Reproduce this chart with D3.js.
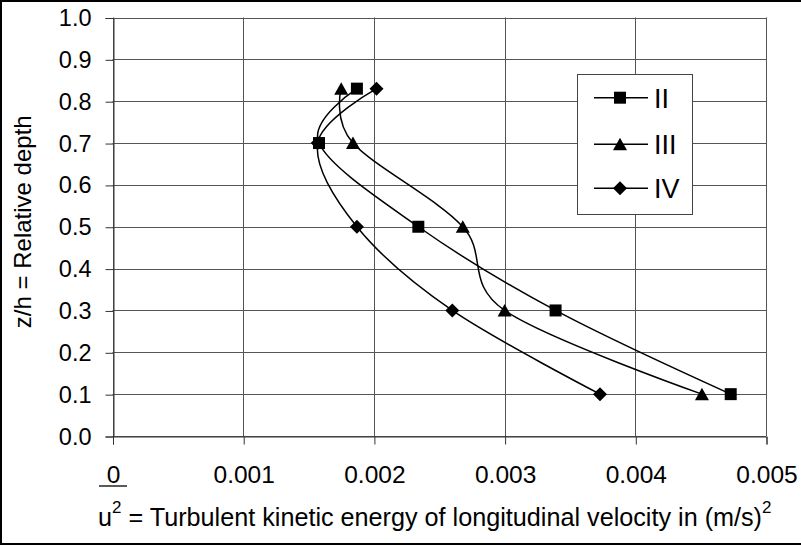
<!DOCTYPE html>
<html><head><meta charset="utf-8">
<script src="https://cdn.jsdelivr.net/npm/d3@7"></script>
<style>
body{margin:0;background:#fff}
svg{display:block}
text{font-family:"Liberation Sans",Arial,Helvetica,sans-serif;fill:#000}
</style></head><body>
<script>
// ---- data ----
const depth = [0.83, 0.7, 0.5, 0.3, 0.1];
const seriesNames = ["II", "III", "IV"];
const valuesII  = [0.00187, 0.00158, 0.00234, 0.00339, 0.00473];
const valuesIII = [0.00175, 0.00184, 0.00268, 0.00300, 0.00451];
const valuesIV  = [0.00202, 0.00157, 0.00187, 0.00260, 0.00373];
const xTicks = [0, 0.001, 0.002, 0.003, 0.004, 0.005];
const xTickLabels = ["0", "0.001", "0.002", "0.003", "0.004", "0.005"];
const yTicks = [0, 0.1, 0.2, 0.3, 0.4, 0.5, 0.6, 0.7, 0.8, 0.9, 1.0];
const yTickLabels = ["0.0","0.1","0.2","0.3","0.4","0.5","0.6","0.7","0.8","0.9","1.0"];
const yTitle = "z/h = Relative depth";
const xTitleParts = ["u", "2", " = Turbulent kinetic energy of longitudinal velocity in (m/s)", "2"];

const W = 801, H = 546;
const svg = d3.select("body").append("svg").attr("width", W).attr("height", H);

// outer frame
svg.append("rect").attr("x", 1).attr("y", 1).attr("width", 810).attr("height", 543)
  .attr("fill", "none").attr("stroke", "#000").attr("stroke-width", 2);

const x = d3.scaleLinear().domain([0, 0.005]).range([112.5, 766]);
const y = d3.scaleLinear().domain([0, 1]).range([436, 17.5]);

const gridColor = "#555";
svg.append("g").selectAll("line").data(yTicks).join("line")
  .attr("x1", x(0)).attr("x2", x(0.005))
  .attr("y1", d => Math.round(y(d)) + 0.5).attr("y2", d => Math.round(y(d)) + 0.5)
  .attr("stroke", gridColor).attr("stroke-width", 1);
svg.append("g").selectAll("line").data(xTicks).join("line")
  .attr("y1", y(1)).attr("y2", y(0))
  .attr("x1", d => Math.round(x(d)) + 0.5).attr("x2", d => Math.round(x(d)) + 0.5)
  .attr("stroke", gridColor).attr("stroke-width", 1);

// Y axis
const yAxis = d3.axisLeft(y).tickValues(yTicks).tickSize(8).tickPadding(14)
  .tickFormat((d, i) => yTickLabels[i]);
const gy = svg.append("g").attr("transform", `translate(${Math.round(x(0)) + 0.5},0.5)`).call(yAxis);
gy.select(".domain").attr("stroke", "#333");
gy.selectAll(".tick line").attr("stroke", "#333");
gy.selectAll(".tick text").style("font-size", "23.5px").attr("font-family", null);

// X axis
const xAxis = d3.axisBottom(x).tickValues(xTicks).tickSize(8).tickPadding(21)
  .tickFormat((d, i) => xTickLabels[i]);
const gx = svg.append("g").attr("transform", `translate(0.5,${Math.round(y(0)) + 0.5})`).call(xAxis);
gx.select(".domain").attr("stroke", "#333");
gx.selectAll(".tick line").attr("stroke", "#333");
gx.selectAll(".tick text").style("font-size", "24.5px").attr("font-family", null);

// bar line under "0"
svg.append("line").attr("x1", x(0) - 13.5).attr("x2", x(0) + 14.5)
  .attr("y1", 486).attr("y2", 486).attr("stroke", "#000").attr("stroke-width", 1.3);

// Y title
svg.append("text").attr("transform", `translate(31,${(y(0) + y(1)) / 2 - 5}) rotate(-90)`)
  .attr("text-anchor", "middle").style("font-size", "24px").text(yTitle);

// X title
const xt = svg.append("text").attr("x", 98).attr("y", 526).style("font-size", "25.2px");
xt.append("tspan").text(xTitleParts[0]);
xt.append("tspan").attr("dy", -13).style("font-size", "17px").text(xTitleParts[1]);
xt.append("tspan").attr("dy", 13).text(xTitleParts[2]);
xt.append("tspan").attr("dy", -13).style("font-size", "17px").text(xTitleParts[3]);

// series
const allValues = [valuesII, valuesIII, valuesIV];
const markerPaths = [
  "M-6,-6H6V6H-6Z",
  "M0,-6.5L7,6L-7,6Z",
  "M0,-7L7,0L0,7L-7,0Z"
];
const line = d3.line().x(d => x(d[0])).y(d => y(d[1])).curve(d3.curveCatmullRom.alpha(0));

allValues.forEach((vals, si) => {
  const pts = vals.map((v, i) => [v, depth[i]]);
  svg.append("path").datum(pts).attr("d", line)
    .attr("fill", "none").attr("stroke", "#000").attr("stroke-width", 1.5);
  svg.append("g").selectAll("path").data(pts).join("path")
    .attr("d", markerPaths[si])
    .attr("transform", d => `translate(${x(d[0])},${y(d[1])})`)
    .attr("fill", "#000");
});

// legend
const lg = svg.append("g");
lg.append("rect").attr("x", 577.5).attr("y", 74.5).attr("width", 115).attr("height", 140)
  .attr("fill", "#fff").attr("stroke", "#444").attr("stroke-width", 1);
const rowY = [97.7, 144.3, 188.3];
seriesNames.forEach((name, i) => {
  lg.append("line").attr("x1", 594).attr("x2", 648).attr("y1", rowY[i]).attr("y2", rowY[i])
    .attr("stroke", "#000").attr("stroke-width", 1.5);
  lg.append("path").attr("d", markerPaths[i]).attr("transform", `translate(620,${rowY[i]})`).attr("fill", "#000");
  lg.append("text").attr("x", 654).attr("y", rowY[i] + 10).style("font-size", "27px").text(name);
});
</script>
</body></html>
